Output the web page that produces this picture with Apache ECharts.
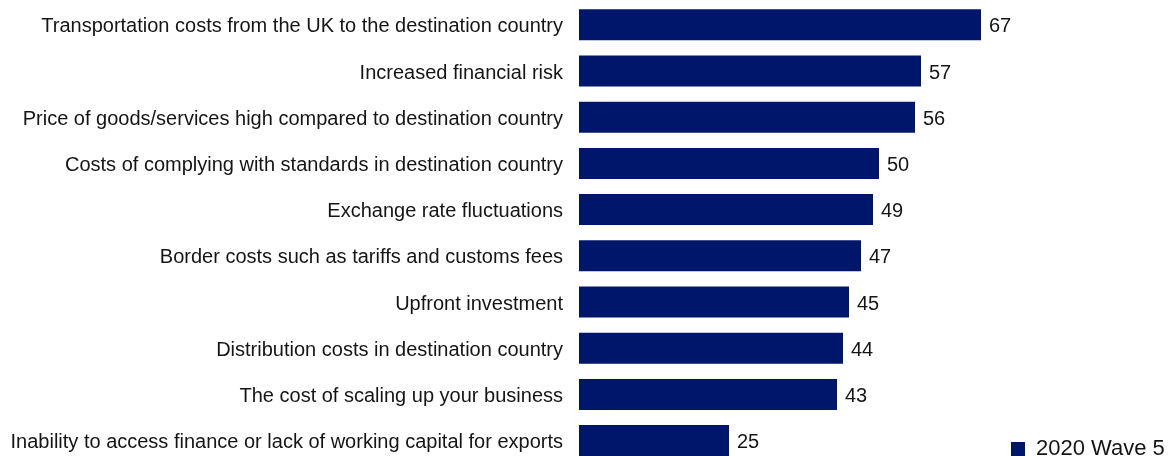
<!DOCTYPE html>
<html>
<head>
<meta charset="utf-8">
<style>
  html, body { margin: 0; padding: 0; background: #ffffff; }
  #chart { width: 1169px; height: 456px; }
</style>
<script src="https://cdn.jsdelivr.net/npm/echarts@6/dist/echarts.min.js"></script>
</head>
<body>
<div id="chart"></div>
<script>
// Barriers to exporting, share of respondents (%), listed top to bottom
const categories = [
  'Transportation costs from the UK to the destination country',
  'Increased financial risk',
  'Price of goods/services high compared to destination country',
  'Costs of complying with standards in destination country',
  'Exchange rate fluctuations',
  'Border costs such as tariffs and customs fees',
  'Upfront investment',
  'Distribution costs in destination country',
  'The cost of scaling up your business',
  'Inability to access finance or lack of working capital for exports'
];
const wave5Values = [67, 57, 56, 50, 49, 47, 45, 44, 43, 25];
const seriesName = '2020 Wave 5';

const barColor = '#00166b';
const textColor = '#151515';
const textFont = 'Liberation Sans, Arial, sans-serif';

const chart = echarts.init(document.getElementById('chart'), null, { renderer: 'canvas' });
chart.setOption({
  animation: false,
  backgroundColor: '#ffffff',
  grid: {
    left: 579,
    top: 1.7,
    height: 462,
    width: 600,
    containLabel: false,
    outerBoundsMode: 'none'
  },
  legend: {
    data: [seriesName],
    left: 1006,
    top: 432,
    itemWidth: 14,
    itemHeight: 14,
    icon: 'rect',
    textStyle: {
      fontFamily: textFont,
      fontSize: 22,
      lineHeight: 22,
      color: textColor,
      padding: [2, 0, 0, 6]
    }
  },
  xAxis: {
    type: 'value',
    min: 0,
    max: 100,
    show: false
  },
  yAxis: {
    type: 'category',
    inverse: true,
    data: categories,
    axisLine: { show: false },
    axisTick: { show: false },
    splitLine: { show: false },
    axisLabel: {
      margin: 16,
      formatter: '{c|{value}}',
      rich: {
        c: {
          fontFamily: textFont,
          fontSize: 20,
          lineHeight: 20,
          color: textColor,
          padding: [4, 0, 0, 0]
        }
      }
    }
  },
  series: [{
    name: seriesName,
    type: 'bar',
    data: wave5Values,
    barWidth: 31,
    itemStyle: { color: barColor },
    label: {
      show: true,
      position: 'right',
      distance: 8,
      offset: [0, 2],
      fontFamily: textFont,
      fontSize: 20,
      color: textColor
    }
  }]
});
</script>
</body>
</html>
